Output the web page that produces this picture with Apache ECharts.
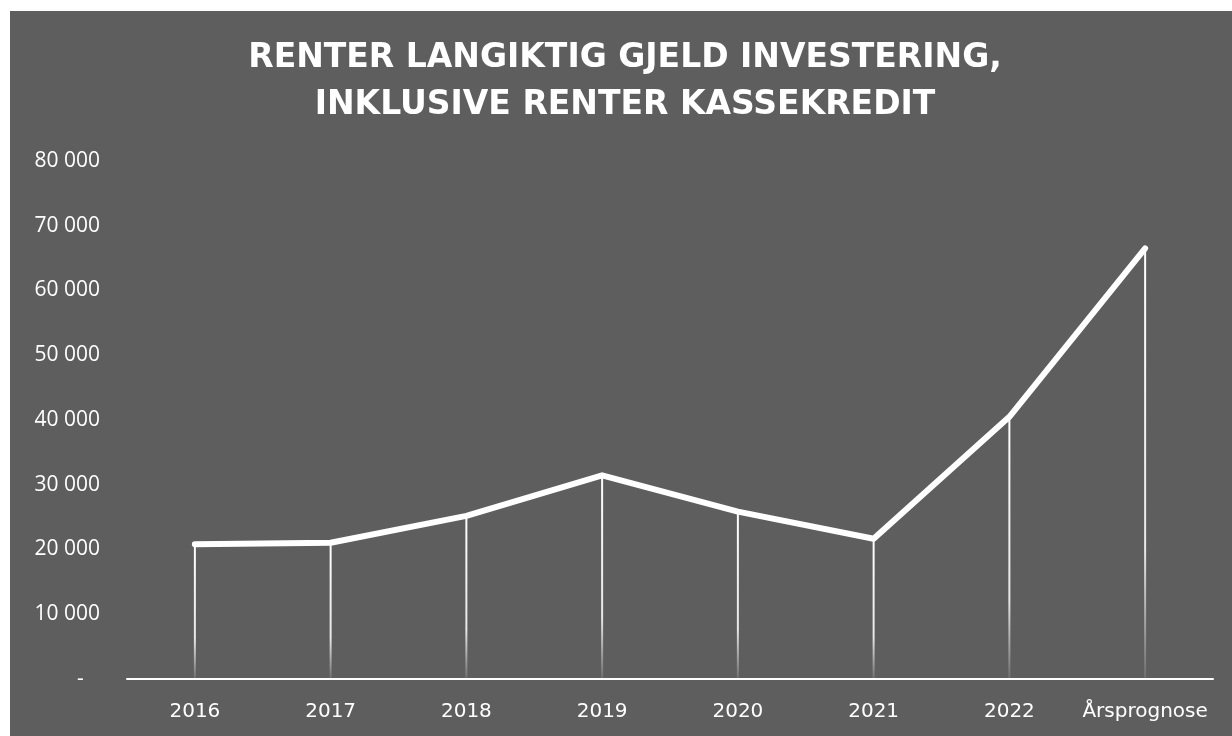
<!DOCTYPE html>
<html>
<head>
<meta charset="utf-8">
<script src="https://cdn.jsdelivr.net/npm/echarts@6/dist/echarts.min.js"></script>
<style>
  html, body { margin: 0; padding: 0; background: #ffffff; }
  #chart { position: absolute; left: 10px; top: 11px; width: 1222px; height: 725px; }
</style>
</head>
<body>
<div id="chart"></div>
<script>
  // data
  var categories = ['2016', '2017', '2018', '2019', '2020', '2021', '2022', 'Årsprognose'];
  var renter = [20800, 21050, 25200, 31450, 25850, 21650, 40500, 66500];
  var titleText = 'RENTER LANGIKTIG GJELD INVESTERING,\nINKLUSIVE RENTER KASSEKREDIT';

  var myChart = echarts.init(document.getElementById('chart'));

  function fmt(v) {
    if (v === 0) return '-   ';
    return String(v).replace(/\B(?=(\d{3})+(?!\d))/g, ' ');
  }

  var option = {
    backgroundColor: '#5e5e5e',
    animation: false,
    title: {
      text: titleText,
      left: 615,
      top: 24,
      padding: 0,
      textAlign: 'center',
      textStyle: {
        color: '#ffffff',
        fontFamily: 'DejaVu Sans',
        fontWeight: 'bold',
        fontSize: 33,
        lineHeight: 47
      }
    },
    grid: {
      left: 117,
      right: 19,
      top: 150,
      bottom: 57,
      containLabel: false
    },
    xAxis: {
      type: 'category',
      data: categories,
      boundaryGap: true,
      axisLine: { show: true, lineStyle: { color: '#ffffff', width: 2 } },
      axisTick: { show: false },
      axisLabel: {
        interval: 0,
        color: '#ffffff',
        fontFamily: 'DejaVu Sans',
        fontSize: 20,
        margin: 23
      }
    },
    yAxis: {
      type: 'value',
      min: 0,
      max: 80000,
      interval: 10000,
      axisLine: { show: false },
      axisTick: { show: false },
      splitLine: { show: false },
      axisLabel: {
        color: '#ffffff',
        fontFamily: 'Open Sans',
        fontSize: 21,
        margin: 27,
        formatter: fmt
      }
    },
    series: [
      {
        name: 'drop',
        type: 'bar',
        data: renter,
        barWidth: 2,
        z: 1,
        itemStyle: {
          color: new echarts.graphic.LinearGradient(0, 0, 0, 1, [
            { offset: 0, color: 'rgba(255,255,255,1)' },
            { offset: 0.7, color: 'rgba(255,255,255,0.85)' },
            { offset: 1, color: 'rgba(255,255,255,0.1)' }
          ])
        }
      },
      {
        name: 'Renter',
        type: 'line',
        data: renter,
        z: 3,
        showSymbol: false,
        symbol: 'none',
        lineStyle: { color: '#ffffff', width: 6, cap: 'round', join: 'round' }
      }
    ]
  };
  myChart.setOption(option);
</script>
</body>
</html>
